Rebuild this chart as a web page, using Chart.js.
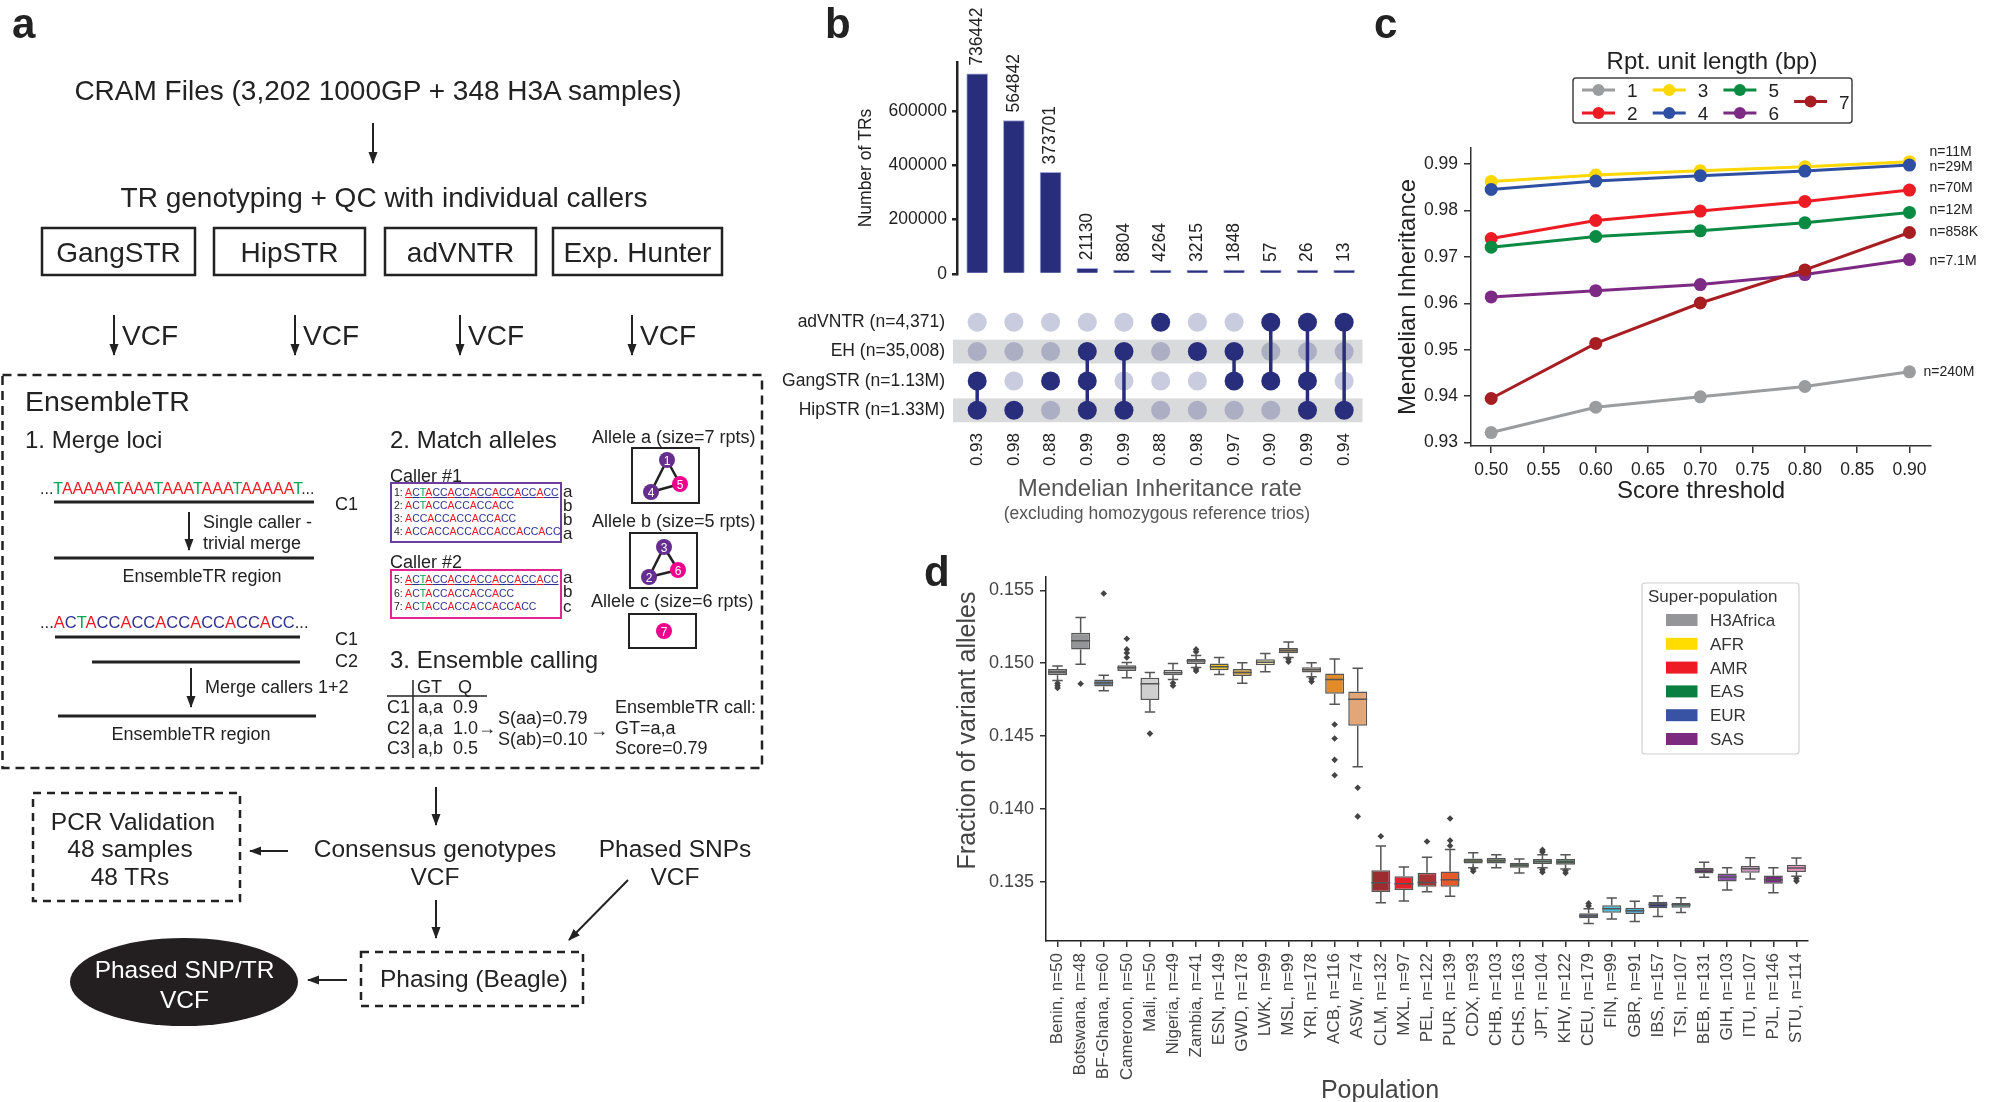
<!DOCTYPE html>
<html><head><meta charset="utf-8"><title>EnsembleTR figure</title>
<script src="https://cdn.jsdelivr.net/npm/chart.js@4.4.1/dist/chart.umd.min.js"></script>
<style>
html,body{margin:0;padding:0;background:#fff;}
#root{position:relative;width:2001px;height:1102px;overflow:hidden;background:#fff;}
.cv{position:absolute;}
#ov{position:absolute;left:0;top:0;pointer-events:none;}
svg text{font-family:"Liberation Sans",Arial,Helvetica,sans-serif;}
</style></head>
<body><div id="root">
<canvas id="cB1" class="cv" style="left:780px;top:0px;width:600px;height:290px" width="600" height="290"></canvas>
<canvas id="cB2" class="cv" style="left:780px;top:285px;width:600px;height:245px" width="600" height="245"></canvas>
<canvas id="cC" class="cv" style="left:1380px;top:130px;width:621px;height:390px" width="621" height="390"></canvas>
<canvas id="cD" class="cv" style="left:900px;top:560px;width:930px;height:542px" width="930" height="542"></canvas>
<svg id="ov" width="2001" height="1102" viewBox="0 0 2001 1102">
<defs>
<marker id="ah" viewBox="0 0 12 10" refX="11" refY="5" markerWidth="12" markerHeight="10" markerUnits="userSpaceOnUse" orient="auto"><path d="M0,0.5 L12,5 L0,9.5 z" fill="#222"/></marker>
</defs>
<g fill="#222">
<text x="12" y="38" font-size="42" font-weight="bold">a</text>
<text x="825" y="38" font-size="42" font-weight="bold">b</text>
<text x="1374" y="38" font-size="42" font-weight="bold">c</text>
<text x="924" y="586" font-size="42" font-weight="bold">d</text>
</g>
<g fill="#222" font-size="28">
<text x="378" y="100" text-anchor="middle">CRAM Files (3,202 1000GP + 348 H3A samples)</text>
<text x="384" y="207" text-anchor="middle">TR genotyping + QC with individual callers</text>
<text x="118.5" y="262" text-anchor="middle">GangSTR</text>
<text x="289.5" y="262" text-anchor="middle">HipSTR</text>
<text x="460.5" y="262" text-anchor="middle">adVNTR</text>
<text x="637.5" y="262" text-anchor="middle">Exp. Hunter</text>
<text x="122" y="345">VCF</text>
<text x="303" y="345">VCF</text>
<text x="468" y="345">VCF</text>
<text x="640" y="345">VCF</text>
<text x="25" y="411" font-size="28.5">EnsembleTR</text>
</g>
<g fill="none" stroke="#222" stroke-width="2.5">
<rect x="42" y="228" width="153" height="47"/>
<rect x="214" y="228" width="151" height="47"/>
<rect x="385" y="228" width="151" height="47"/>
<rect x="553" y="228" width="169" height="47"/>
<rect x="2.5" y="375" width="759.5" height="393" stroke-dasharray="9 6"/>
<rect x="33" y="793" width="207" height="108" stroke-dasharray="8 6"/>
<rect x="361" y="952" width="222" height="54" stroke-dasharray="8 6"/>
</g>
<g stroke="#222" stroke-width="2" marker-end="url(#ah)">
<line x1="373" y1="123" x2="373" y2="163"/>
<line x1="114" y1="315" x2="114" y2="355"/>
<line x1="295" y1="315" x2="295" y2="355"/>
<line x1="460" y1="315" x2="460" y2="355"/>
<line x1="632" y1="315" x2="632" y2="355"/>
<line x1="189" y1="512" x2="189" y2="550"/>
<line x1="191" y1="668" x2="191" y2="707"/>
<line x1="436" y1="787" x2="436" y2="825"/>
<line x1="288" y1="851" x2="250" y2="851"/>
<line x1="436" y1="900" x2="436" y2="938"/>
<line x1="628" y1="880" x2="569" y2="940"/>
<line x1="347" y1="980" x2="308" y2="980"/>
</g>
<g stroke="#222" stroke-width="3">
<line x1="54" y1="502" x2="314" y2="502"/>
<line x1="54" y1="558" x2="314" y2="558"/>
<line x1="55" y1="637" x2="300" y2="637"/>
<line x1="92" y1="662" x2="300" y2="662"/>
<line x1="58" y1="716" x2="316" y2="716"/>
</g>
<g fill="#222" font-size="24">
<text x="25" y="448">1. Merge loci</text>
<text x="390" y="448">2. Match alleles</text>
<text x="390" y="668">3. Ensemble calling</text>
</g>
<g fill="#222" font-size="18">
<text x="335" y="510">C1</text>
<text x="203" y="528">Single caller -</text>
<text x="203" y="549">trivial merge</text>
<text x="202" y="582" text-anchor="middle">EnsembleTR region</text>
<text x="335" y="645">C1</text>
<text x="335" y="667">C2</text>
<text x="205" y="693">Merge callers 1+2</text>
<text x="191" y="740" text-anchor="middle">EnsembleTR region</text>
<text x="592" y="443">Allele a (size=7 rpts)</text>
<text x="592" y="527">Allele b (size=5 rpts)</text>
<text x="591" y="607">Allele c (size=6 rpts)</text>
<text x="390" y="482">Caller #1</text>
<text x="390" y="568">Caller #2</text>
<text x="417" y="693">GT</text><text x="458" y="693">Q</text>
<text x="387" y="713">C1</text><text x="418" y="713">a,a</text><text x="453" y="713">0.9</text>
<text x="387" y="734">C2</text><text x="418" y="734">a,a</text><text x="453" y="734">1.0</text>
<text x="387" y="754">C3</text><text x="418" y="754">a,b</text><text x="453" y="754">0.5</text>
<text x="478" y="734">→</text>
<text x="498" y="724">S(aa)=0.79</text>
<text x="498" y="745">S(ab)=0.10</text>
<text x="590" y="736">→</text>
<text x="615" y="713">EnsembleTR call:</text>
<text x="615" y="734">GT=a,a</text>
<text x="615" y="754">Score=0.79</text>
</g>
<g fill="#222" font-size="17">
<text x="563" y="497">a</text><text x="563" y="511">b</text><text x="563" y="525">b</text><text x="563" y="539">a</text>
<text x="563" y="583">a</text><text x="563" y="597">b</text><text x="563" y="612">c</text>
</g>
<g stroke="#222" stroke-width="1.5">
<line x1="387" y1="696" x2="487" y2="696"/>
<line x1="413" y1="680" x2="413" y2="758"/>
</g>
<rect x="391" y="483" width="170" height="59" fill="none" stroke="#6b3fa0" stroke-width="2"/>
<rect x="391" y="570" width="170" height="48" fill="none" stroke="#e4258f" stroke-width="2"/>
<g fill="none" stroke="#222" stroke-width="2">
<rect x="632" y="448" width="67" height="55"/>
<rect x="630" y="533" width="67" height="55"/>
<rect x="629" y="614" width="67" height="34"/>
</g>
<g stroke="#222" stroke-width="2.5">
<line x1="667" y1="460" x2="680" y2="484"/><line x1="667" y1="460" x2="651" y2="492"/><line x1="651" y1="492" x2="680" y2="484"/>
<line x1="664" y1="547" x2="678" y2="570"/><line x1="664" y1="547" x2="649" y2="577"/><line x1="649" y1="577" x2="678" y2="570"/>
</g>
<g font-size="12" fill="#fff" text-anchor="middle">
<circle cx="667" cy="460" r="8" fill="#662d91"/><text x="667" y="464.5">1</text>
<circle cx="680" cy="484" r="8" fill="#ec008c"/><text x="680" y="488.5">5</text>
<circle cx="651" cy="492" r="8" fill="#662d91"/><text x="651" y="496.5">4</text>
<circle cx="664" cy="547" r="8" fill="#662d91"/><text x="664" y="551.5">3</text>
<circle cx="678" cy="570" r="8" fill="#ec008c"/><text x="678" y="574.5">6</text>
<circle cx="649" cy="577" r="8" fill="#662d91"/><text x="649" y="581.5">2</text>
<circle cx="664" cy="631" r="8" fill="#ec008c"/><text x="664" y="635.5">7</text>
</g>
<g fill="#222" font-size="24.5" text-anchor="middle">
<text x="133" y="830">PCR Validation</text>
<text x="130" y="857">48 samples</text>
<text x="130" y="885">48 TRs</text>
<text x="435" y="857">Consensus genotypes</text>
<text x="435" y="885">VCF</text>
<text x="675" y="857">Phased SNPs</text>
<text x="675" y="885">VCF</text>
<text x="474" y="987">Phasing (Beagle)</text>
</g>
<ellipse cx="184" cy="982" rx="114" ry="44" fill="#231f20"/>
<g fill="#fff" font-size="24.5" text-anchor="middle">
<text x="184.5" y="978">Phased SNP/TR</text>
<text x="184.5" y="1008">VCF</text>
</g>
<text x="1157" y="519" font-size="17.5" fill="#555" text-anchor="middle">(excluding homozygous reference trios)</text>
<text transform="translate(975,730.5) rotate(-90)" font-size="25" fill="#444" text-anchor="middle">Fraction of variant alleles</text>
<text x="1380" y="1098" font-size="25" fill="#444" text-anchor="middle">Population</text>
<g id="seqs"></g>
<g id="legC"></g>
<g id="legD"></g>
</svg>
</div>
<script>
// ================= DATA =================
// Panel b: UpSet-style intersections
const callerRows = ['adVNTR (n=4,371)', 'EH (n=35,008)', 'GangSTR (n=1.13M)', 'HipSTR (n=1.33M)'];
const intersectCounts = [736442, 564842, 373701, 21130, 8804, 4264, 3215, 1848, 57, 26, 13];
const miRates = ['0.93', '0.98', '0.88', '0.99', '0.99', '0.88', '0.98', '0.97', '0.90', '0.99', '0.94'];
const membership = [[2,3],[3],[2],[1,2,3],[1,3],[0],[1],[1,2],[0,2],[0,2,3],[0,3]];
const countTicks = [0, 200000, 400000, 600000];

// Panel c: Mendelian inheritance vs score threshold
const thresholds = [0.50, 0.60, 0.70, 0.80, 0.90];
const thresholdTicks = [0.50, 0.55, 0.60, 0.65, 0.70, 0.75, 0.80, 0.85, 0.90];
const miTicks = [0.93, 0.94, 0.95, 0.96, 0.97, 0.98, 0.99];
const unitLengths = ['1', '2', '3', '4', '5', '6', '7'];
const mi1 = [0.93216, 0.93763, 0.93986, 0.94209, 0.94525];
const mi2 = [0.97396, 0.97784, 0.97986, 0.98194, 0.98439];
const mi3 = [0.98626, 0.98763, 0.98856, 0.98942, 0.99050];
const mi4 = [0.98453, 0.98633, 0.98748, 0.98849, 0.98978];
const mi5 = [0.97209, 0.97439, 0.97561, 0.97734, 0.97957];
const mi6 = [0.96137, 0.96273, 0.96403, 0.96619, 0.96942];
const mi7 = [0.93950, 0.95137, 0.96007, 0.96719, 0.97525];
const nLabels = ['n=240M', 'n=70M', 'n=11M', 'n=29M', 'n=12M', 'n=7.1M', 'n=858K'];

// Panel d: fraction of variant alleles per population
const populations = ['Benin','Botswana','BF-Ghana','Cameroon','Mali','Nigeria','Zambia','ESN','GWD','LWK','MSL','YRI','ACB','ASW','CLM','MXL','PEL','PUR','CDX','CHB','CHS','JPT','KHV','CEU','FIN','GBR','IBS','TSI','BEB','GIH','ITU','PJL','STU'];
const popSizes = [50,48,60,50,50,49,41,149,178,99,99,178,116,74,132,97,122,139,93,103,163,104,122,179,99,91,157,107,131,103,107,146,114];
const superPops = ['H3Africa','AFR','AMR','EAS','EUR','SAS'];
const whiskLo = [0.14881,0.14993,0.14811,0.14901,0.14665,0.14888,0.14971,0.14922,0.14862,0.14942,0.15039,0.14908,0.14719,0.14289,0.13357,0.13369,0.13432,0.13401,0.13597,0.13597,0.13561,0.13597,0.13588,0.13214,0.13245,0.13228,0.13262,0.13289,0.13532,0.13444,0.13520,0.13425,0.13539];
const boxQ1 = [0.14918,0.15095,0.14840,0.14947,0.14748,0.14918,0.14995,0.14952,0.14913,0.14986,0.15068,0.14937,0.14791,0.14571,0.13430,0.13444,0.13466,0.13466,0.13626,0.13626,0.13597,0.13622,0.13617,0.13250,0.13287,0.13279,0.13318,0.13323,0.13558,0.13503,0.13563,0.13486,0.13568];
const boxMed = [0.14939,0.15155,0.14864,0.14969,0.14859,0.14935,0.15015,0.14976,0.14937,0.15007,0.15087,0.14956,0.14888,0.14753,0.13493,0.13486,0.13495,0.13515,0.13643,0.13646,0.13614,0.13639,0.13636,0.13267,0.13316,0.13301,0.13345,0.13342,0.13580,0.13534,0.13590,0.13515,0.13595];
const boxQ3 = [0.14961,0.15209,0.14888,0.14986,0.14901,0.14956,0.15029,0.14998,0.14961,0.15027,0.15104,0.14973,0.14930,0.14806,0.13580,0.13539,0.13563,0.13571,0.13660,0.13663,0.13631,0.13656,0.13656,0.13284,0.13340,0.13323,0.13364,0.13355,0.13597,0.13558,0.13609,0.13544,0.13617];
const whiskHi = [0.14981,0.15313,0.14918,0.15005,0.14937,0.14998,0.15053,0.15039,0.15003,0.15066,0.15146,0.15003,0.15029,0.14966,0.13745,0.13602,0.13668,0.13721,0.13699,0.13685,0.13656,0.13685,0.13685,0.13316,0.13389,0.13367,0.13403,0.13391,0.13634,0.13597,0.13665,0.13597,0.13663];
const outliers = [[0.14862,0.14845,0.14830],[0.14859],[0.15478],[0.15039,0.15070,0.15095,0.15168],[0.14517],[0.14864,0.14845],[0.15078,0.15095,0.14961,0.14947],[],[],[],[0.15029,0.15010],[0.14893,0.14874],[0.14580,0.14483,0.14337,0.14231],[0.14146,0.13949],[0.13813],[],[0.13777],[0.13748,0.13784,0.13935],[0.13588,0.13573],[],[],[0.13704,0.13719,0.13583,0.13566],[0.13578,0.13561],[0.13335,0.13352],[],[],[],[],[],[],[],[],[0.13522,0.13505]];
const fracTicks = [0.135, 0.140, 0.145, 0.150, 0.155];

// ================= STYLES =================
const FONT = '"Liberation Sans", Arial, Helvetica, sans-serif';
Chart.defaults.font.family = FONT;
Chart.defaults.color = '#222';
const navy = '#292e7c';
const navyLight = 'rgba(41,46,124,0.25)';
const lineColors = ['#9b9c9e','#ed1c24','#fdd700','#2e4fa2','#0b8a43','#7d2a85','#a61e22'];
const superColors = ['#939598','#ffdd00','#ed1c24','#0a7f3f','#3953a4','#7b2a7f'];
const boxColors = ['#7d7f83','#939598','#6e7f8f','#8b8c8e','#cfcfd0','#c2c3c8','#9fa0a3',
  '#e9c01a','#d6a33a','#efe6a3','#8c7233','#bdb58e','#e38b27','#e3a677',
  '#9d2c30','#e62129','#a8343a','#e65a27',
  '#82a04f','#5f7652','#1f5d3b','#4f7d5d','#2b5c40',
  '#3c4b7b','#4cc1d9','#2ea2d6','#2a2e6b','#5e9595',
  '#5b3262','#8b52ae','#d094c4','#782b80','#ea8abb'];

// ================= PANEL A sequences =================
const NS = 'http://www.w3.org/2000/svg';
function el(tag, attrs, parent) { const e = document.createElementNS(NS, tag); for (const k in attrs) e.setAttribute(k, attrs[k]); parent.appendChild(e); return e; }
const baseColor = {A:'#ed1c24', C:'#2e3192', T:'#00a651'};
const seqG = document.getElementById('seqs');
function seqText(x, y, size, lead, s, trail, underline) {
  const t = el('text', {x: x, y: y, 'font-size': size}, seqG);
  if (lead) { const p = el('tspan', {fill:'#222'}, t); p.textContent = lead; }
  for (const ch of s) { const a = {fill: baseColor[ch]}; if (underline) a['text-decoration'] = 'underline'; const p = el('tspan', a, t); p.textContent = ch; }
  if (trail) { const p = el('tspan', {fill:'#222'}, t); p.textContent = trail; }
}
seqText(40, 494, 16, '...', 'TAAAAATAAATAAATAAATAAAAAT', '...');
seqText(40, 628, 16.5, '...', 'ACTACCACCACCACCACCACC', '...');
seqText(394, 496, 10.5, '1: ', 'ACTACCACCACCACCACCACC', '', true);
seqText(394, 509, 10.5, '2: ', 'ACTACCACCACCACC', '');
seqText(394, 522, 10.5, '3: ', 'ACCACCACCACCACC', '');
seqText(394, 535, 10.5, '4: ', 'ACCACCACCACCACCACCACC', '');
seqText(394, 583, 10.5, '5: ', 'ACTACCACCACCACCACCACC', '', true);
seqText(394, 597, 10.5, '6: ', 'ACTACCACCACCACC', '');
seqText(394, 610, 10.5, '7: ', 'ACTACCACCACCACCACC', '');

// ================= PANEL B: bars =================
const barValueLabels = {
  id: 'barValueLabels',
  afterDatasetsDraw(chart) {
    const ctx = chart.ctx, meta = chart.getDatasetMeta(0);
    ctx.save();
    ctx.font = '17.5px ' + FONT; ctx.fillStyle = '#222'; ctx.textAlign = 'left'; ctx.textBaseline = 'middle';
    meta.data.forEach((bar, i) => {
      ctx.save(); ctx.translate(bar.x, bar.y - 8); ctx.rotate(-Math.PI / 2);
      ctx.fillText(String(intersectCounts[i]), 0, 0); ctx.restore();
    });
    ctx.restore();
  }
};
new Chart(document.getElementById('cB1'), {
  type: 'bar',
  data: { datasets: [{ data: intersectCounts.map((v, i) => ({x: i, y: v})), backgroundColor: navy,
    borderColor: 'rgba(150,155,210,0.9)', borderWidth: 1, barThickness: 21, minBarLength: 4 }] },
  options: {
    responsive: false, animation: false, events: [],
    layout: { padding: { top: 62, right: 17.5, bottom: 16, left: 0 } },
    plugins: { legend: { display: false }, tooltip: { enabled: false } },
    scales: {
      x: { type: 'linear', min: -0.55, max: 10.5, offset: false, display: false },
      y: { min: 0, max: 780000,
        afterFit: s => { s.width = 177; },
        afterBuildTicks: s => { s.ticks = countTicks.map(v => ({value: v})); },
        ticks: { callback: v => String(v), color: '#222', font: { size: 17.5 }, padding: 5 },
        grid: { display: true, drawOnChartArea: false, drawTicks: true, tickLength: 5, color: '#222', lineWidth: 2.5 },
        border: { display: true, color: '#222', width: 2.5 },
        title: { display: true, text: 'Number of TRs', color: '#222', font: { size: 17.5 }, padding: { top: 75.5, bottom: 0 } }
      }
    }
  },
  plugins: [barValueLabels]
});

// ================= PANEL B: matrix =================
const dotPts = [], dotCols = [], linkPts = [];
membership.forEach((rows, c) => {
  callerRows.forEach((_, r) => { dotPts.push({x: c, y: r}); dotCols.push(rows.includes(r) ? navy : navyLight); });
  if (rows.length > 1) {
    linkPts.push({x: c, y: Math.min(...rows)}, {x: c, y: Math.max(...rows)}, {x: c + 0.5, y: null});
  }
});
const rowBands = {
  id: 'rowBands',
  beforeDatasetsDraw(chart) {
    const {ctx, chartArea: a, scales: {y}} = chart;
    const h = Math.abs(y.getPixelForValue(1) - y.getPixelForValue(0)) * 0.81;
    ctx.save(); ctx.fillStyle = '#d9dadc';
    callerRows.forEach((_, r) => { if (r % 2 === 1) { const yc = y.getPixelForValue(r); ctx.fillRect(a.left - 4, yc - h / 2, a.right - a.left + 4, h); } });
    ctx.restore();
  }
};
new Chart(document.getElementById('cB2'), {
  type: 'scatter',
  data: { datasets: [
    { type: 'scatter', data: dotPts, pointRadius: 9.5, pointBackgroundColor: dotCols, pointBorderWidth: 0, order: 1 },
    { type: 'line', data: linkPts, borderColor: navy, borderWidth: 3.5, pointRadius: 0, spanGaps: false, order: 2 }
  ] },
  options: {
    responsive: false, animation: false, events: [],
    layout: { padding: { top: 6, right: 17.5, bottom: 0, left: 0 } },
    plugins: { legend: { display: false }, tooltip: { enabled: false } },
    scales: {
      x: { type: 'linear', min: -0.55, max: 10.5, offset: false,
        afterFit: s => { s.height = 105; },
        afterBuildTicks: s => { s.ticks = miRates.map((_, i) => ({value: i})); },
        ticks: { callback: v => miRates[v], minRotation: 90, maxRotation: 90, autoSkip: false, color: '#222', font: { size: 17 }, padding: 8 },
        grid: { display: false, drawTicks: false }, border: { display: false },
        title: { display: true, text: 'Mendelian Inheritance rate', color: '#555', font: { size: 24 }, padding: { top: 0, bottom: 26.6 } }
      },
      y: { type: 'linear', reverse: true, min: -0.5, max: 3.5,
        afterFit: s => { s.width = 177; },
        afterBuildTicks: s => { s.ticks = callerRows.map((_, i) => ({value: i})); },
        ticks: { callback: v => callerRows[v], autoSkip: false, color: '#222', font: { size: 17.5 }, padding: 12 },
        grid: { display: false, drawTicks: false }, border: { display: false }
      }
    }
  },
  plugins: [rowBands]
});

// ================= PANEL C =================
const miSeries = [mi1, mi2, mi3, mi4, mi5, mi6, mi7];
const labelNudge = [[14, 0], [20, -2], [20, -10], [20, 2], [20, -2], [20, 2], [20, 0]];
const endLabels = {
  id: 'endLabels',
  afterDatasetsDraw(chart) {
    const ctx = chart.ctx;
    ctx.save(); ctx.font = '14px ' + FONT; ctx.fillStyle = '#222'; ctx.textAlign = 'left'; ctx.textBaseline = 'middle';
    miSeries.forEach((_, i) => {
      const meta = chart.getDatasetMeta(i); const p = meta.data[meta.data.length - 1];
      ctx.fillText(nLabels[i], p.x + labelNudge[i][0], p.y + labelNudge[i][1]);
    });
    ctx.restore();
  }
};
new Chart(document.getElementById('cC'), {
  type: 'line',
  data: { datasets: miSeries.map((vals, i) => ({
    label: unitLengths[i], data: thresholds.map((t, j) => ({x: t, y: vals[j]})),
    borderColor: lineColors[i], backgroundColor: lineColors[i], pointBackgroundColor: lineColors[i],
    borderWidth: 3, pointRadius: 6.5, pointBorderWidth: 0, order: miSeries.length - 1 - i
  })) },
  options: {
    responsive: false, animation: false, events: [],
    layout: { padding: { top: 18, right: 70, bottom: 0, left: 0 } },
    plugins: { legend: { display: false }, tooltip: { enabled: false } },
    scales: {
      x: { type: 'linear', min: 0.4807, max: 0.9206,
        afterFit: s => { s.height = 74; },
        afterBuildTicks: s => { s.ticks = thresholdTicks.map(v => ({value: v})); },
        ticks: { callback: v => v.toFixed(2), color: '#222', font: { size: 17.5 }, padding: 7, maxRotation: 0 },
        grid: { display: true, drawOnChartArea: false, tickLength: 7, color: '#333', lineWidth: 1.5 },
        border: { color: '#333', width: 1.5 },
        title: { display: true, text: 'Score threshold', color: '#222', font: { size: 24 }, padding: { top: 0, bottom: 14.6 } }
      },
      y: { type: 'linear', min: 0.92927, max: 0.99345,
        afterFit: s => { s.width = 91; },
        afterBuildTicks: s => { s.ticks = miTicks.map(v => ({value: v})); },
        ticks: { callback: v => v.toFixed(2), color: '#222', font: { size: 17.5 }, padding: 6 },
        grid: { display: true, drawOnChartArea: false, tickLength: 7, color: '#333', lineWidth: 1.5 },
        border: { color: '#333', width: 1.5 },
        title: { display: true, text: 'Mendelian Inheritance', color: '#222', font: { size: 24 }, padding: { top: 13.6, bottom: 0 } }
      }
    }
  },
  plugins: [endLabels]
});
// legend for panel c (from series labels/colours)
const legC = document.getElementById('legC');
el('text', {x: 1712, y: 69, 'font-size': 24, fill: '#222', 'text-anchor': 'middle'}, legC).textContent = 'Rpt. unit length (bp)';
el('rect', {x: 1573, y: 78, width: 279, height: 45, rx: 3, fill: '#fff', stroke: '#444', 'stroke-width': 1.5}, legC);
unitLengths.forEach((lab, i) => {
  const col = Math.floor(i / 2), row = i % 2;
  const lone = (i === unitLengths.length - 1 && unitLengths.length % 2 === 1);
  const x0 = 1582 + col * 70.7, y = lone ? 101.5 : 90 + row * 23;
  el('line', {x1: x0, y1: y, x2: x0 + 33, y2: y, stroke: lineColors[i], 'stroke-width': 3}, legC);
  el('circle', {cx: x0 + 16.5, cy: y, r: 6, fill: lineColors[i]}, legC);
  el('text', {x: x0 + 45, y: y + 7, 'font-size': 19, fill: '#222'}, legC).textContent = lab;
});

// ================= PANEL D =================
const popLabels = populations.map((p, i) => p + ', n=' + popSizes[i]);
const outlierPts = [];
outliers.forEach((arr, i) => arr.forEach(v => outlierPts.push({x: popLabels[i], y: v})));
const boxWhiskers = {
  id: 'boxWhiskers',
  afterDatasetsDraw(chart) {
    const {ctx, scales: {y}} = chart; const meta = chart.getDatasetMeta(0);
    ctx.save(); ctx.strokeStyle = '#555'; ctx.lineWidth = 1.5;
    meta.data.forEach((b, i) => {
      const x = b.x, w = b.width, cw = w * 0.55;
      const pLo = y.getPixelForValue(whiskLo[i]), pQ1 = y.getPixelForValue(boxQ1[i]), pMed = y.getPixelForValue(boxMed[i]);
      const pQ3 = y.getPixelForValue(boxQ3[i]), pHi = y.getPixelForValue(whiskHi[i]);
      ctx.beginPath();
      ctx.moveTo(x, pQ3); ctx.lineTo(x, pHi); ctx.moveTo(x - cw / 2, pHi); ctx.lineTo(x + cw / 2, pHi);
      ctx.moveTo(x, pQ1); ctx.lineTo(x, pLo); ctx.moveTo(x - cw / 2, pLo); ctx.lineTo(x + cw / 2, pLo);
      ctx.moveTo(x - w / 2, pMed); ctx.lineTo(x + w / 2, pMed);
      ctx.stroke();
    });
    ctx.restore();
  }
};
new Chart(document.getElementById('cD'), {
  type: 'bar',
  data: { labels: popLabels, datasets: [
    { type: 'bar', data: boxQ1.map((v, i) => [v, boxQ3[i]]), backgroundColor: boxColors, borderColor: '#555', borderWidth: 1.5,
      borderSkipped: false, barPercentage: 0.82, categoryPercentage: 1, order: 2 },
    { type: 'line', data: outlierPts, showLine: false, pointStyle: 'rectRot', pointRadius: 3.3, pointBackgroundColor: '#444', pointBorderWidth: 0, order: 1 }
  ] },
  options: {
    responsive: false, animation: false, events: [],
    layout: { padding: { top: 14, right: 22, bottom: 0, left: 0 } },
    plugins: { legend: { display: false }, tooltip: { enabled: false } },
    scales: {
      x: { afterFit: s => { s.height = 161; },
        ticks: { color: '#444', font: { size: 17 }, minRotation: 90, maxRotation: 90, autoSkip: false, padding: 6 },
        grid: { display: true, offset: false, drawOnChartArea: false, tickLength: 6, color: '#333', lineWidth: 1.5 },
        border: { color: '#222', width: 1.5 }
      },
      y: { min: 0.13094, max: 0.15593,
        afterFit: s => { s.width = 146; },
        afterBuildTicks: s => { s.ticks = fracTicks.map(v => ({value: v})); },
        ticks: { callback: v => v.toFixed(3), color: '#444', font: { size: 18 }, padding: 6 },
        grid: { display: true, drawOnChartArea: false, tickLength: 6, color: '#333', lineWidth: 1.5 },
        border: { color: '#222', width: 1.5 }
      }
    }
  },
  plugins: [boxWhiskers]
});
// legend for panel d
const legD = document.getElementById('legD');
el('rect', {x: 1642, y: 583, width: 157, height: 171, rx: 3, fill: 'rgba(255,255,255,0.85)', stroke: '#d0d0d0', 'stroke-width': 1.2}, legD);
el('text', {x: 1648, y: 602, 'font-size': 17, fill: '#333'}, legD).textContent = 'Super-population';
superPops.forEach((s, i) => {
  const yc = 620 + i * 23.8;
  el('rect', {x: 1666, y: yc - 6, width: 31.5, height: 12, fill: superColors[i]}, legD);
  el('text', {x: 1710, y: yc + 6, 'font-size': 17, fill: '#333'}, legD).textContent = s;
});
</script>
</body></html>
